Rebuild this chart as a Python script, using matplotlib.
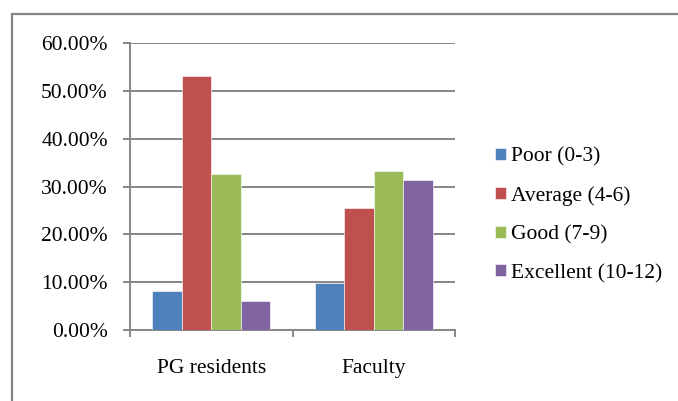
import numpy as np
import matplotlib.pyplot as plt
from matplotlib.patches import Rectangle
from matplotlib.ticker import FuncFormatter

# groups on the x axis and the four score bands
groups = ['PG residents', 'Faculty']
bands = ['Poor (0-3)', 'Average (4-6)', 'Good (7-9)', 'Excellent (10-12)']
colors = ['#4F81BD', '#C0504D', '#9BBB59', '#8064A2']

# percentage of respondents in each band
poor = [8.16, 9.80]
average = [53.06, 25.49]
good = [32.65, 33.33]
excellent = [6.12, 31.37]

plt.rcParams['font.family'] = ['Liberation Serif', 'DejaVu Serif']

fig = plt.figure(figsize=(6.78, 4.01), dpi=100)
ax = fig.add_axes([130 / 678, 1 - 330 / 401, 325 / 678, 287 / 401])

x = np.arange(len(groups))
w = 0.182
for i, vals in enumerate([poor, average, good, excellent]):
    ax.bar(x + (i - 1.5) * w, vals, w, color=colors[i], label=bands[i],
           edgecolor='white', linewidth=0.4, zorder=3)

ax.set_ylim(0, 60)
ax.set_xlim(-0.5, 1.5)
ax.set_yticks(np.arange(0, 61, 10))
ax.yaxis.set_major_formatter(FuncFormatter(lambda v, p: '%.2f%%' % v))
ax.grid(axis='y', color='#868686', linewidth=1.4, zorder=0)

# ticks at category edges, labels at centres
ax.set_xticks([-0.5, 0.5, 1.5])
ax.set_xticklabels([])
ax.set_xticks(x, minor=True)
ax.set_xticklabels(groups, minor=True)
ax.tick_params(axis='x', which='minor', length=0, pad=21, labelsize=15.5)
ax.tick_params(axis='x', which='major', length=5, width=1.4, color='#868686')
ax.tick_params(axis='y', length=5, width=1.4, color='#868686', pad=11, labelsize=15.5)

for s in ['top', 'right']:
    ax.spines[s].set_visible(False)
for s in ['left', 'bottom']:
    ax.spines[s].set_color('#868686')
    ax.spines[s].set_linewidth(1.4)

ax.legend(loc='center left', bbox_to_anchor=(1.09, 0.40), frameon=False,
          fontsize=15.5, handlelength=0.5, handleheight=0.5, handletextpad=0.25,
          labelspacing=0.9, borderpad=0)

# outer chart border
fig.add_artist(Rectangle((12 / 678, -0.1), 1.2, 1 - 14 / 401 + 0.1,
                         transform=fig.transFigure, fill=False,
                         edgecolor='#868686', linewidth=1.6))

fig.savefig('out.png', dpi=100)
